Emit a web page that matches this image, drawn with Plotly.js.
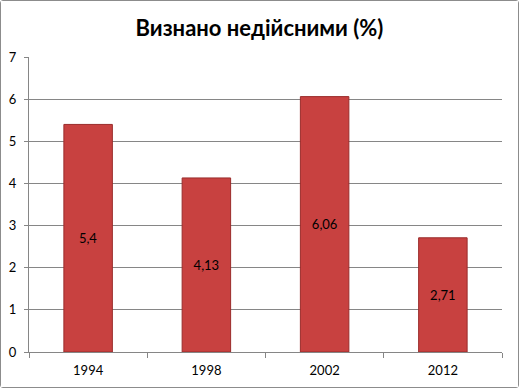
<!DOCTYPE html>
<html>
<head>
<meta charset="utf-8">
<script src="https://cdn.plot.ly/plotly-3.0.1.min.js"></script>
<style>
html,body{margin:0;padding:0;background:#fff;}
#chart{position:absolute;left:0;top:0;width:517px;height:386px;border:1px solid #8c8c8c;border-radius:3px;}
</style>
</head>
<body>
<div id="chart"></div>
<script>
const years = ['1994', '1998', '2002', '2012'];
const values = [5.4, 4.13, 6.06, 2.71];
const titleText = 'Визнано недійсними (%)';

const labels = values.map(v => String(v).replace('.', ','));

const trace = {
  type: 'bar',
  x: years,
  y: values,
  text: labels,
  textposition: 'inside',
  insidetextanchor: 'middle',
  textangle: 0,
  constraintext: 'none',
  textfont: {family: 'Lato, sans-serif', size: 13, color: '#000'},
  marker: {color: '#c84140', line: {color: '#9a2c2b', width: 1}},
  width: 0.41,
  hoverinfo: 'none'
};

const layout = {
  width: 517, height: 386,
  margin: {l: 28, r: 16, t: 56, b: 35},
  paper_bgcolor: '#fff', plot_bgcolor: '#fff',
  font: {family: 'Lato, sans-serif', color: '#000', size: 13},
  title: {text: '<b>' + titleText + '</b>', font: {family: 'Lato, sans-serif', size: 22, color: '#000'}, x: 0.5, xanchor: 'center', y: 0.93, yanchor: 'middle'},
  showlegend: false,
  bargap: 0.59,
  xaxis: {
    type: 'category',
    showline: true, linecolor: '#868686', linewidth: 1,
    ticks: 'outside', tickson: 'boundaries', ticklen: 5, tickcolor: '#868686',
    ticklabelstandoff: 6,
    showgrid: false,
    tickfont: {family: 'Lato, sans-serif', size: 13, color: '#000'},
    fixedrange: true
  },
  yaxis: {
    range: [0, 7], dtick: 1, tick0: 0,
    showline: true, linecolor: '#868686', linewidth: 1,
    ticks: 'outside', ticklen: 4, tickcolor: '#868686',
    ticklabelstandoff: 5,
    showgrid: true, gridcolor: '#868686', gridwidth: 1,
    zeroline: false,
    tickfont: {family: 'Lato, sans-serif', size: 13, color: '#000'},
    fixedrange: true
  }
};

Plotly.newPlot('chart', [trace], layout, {displayModeBar: false, staticPlot: true});
</script>
</body>
</html>
